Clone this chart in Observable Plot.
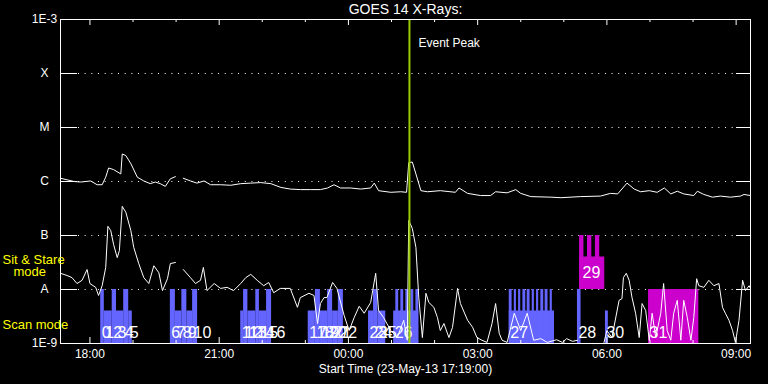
<!DOCTYPE html>
<html><head><meta charset="utf-8">
<script src="https://cdn.jsdelivr.net/npm/d3@7"></script>
<script src="https://cdn.jsdelivr.net/npm/@observablehq/plot@0.6"></script>
<style>
html,body{margin:0;padding:0;background:#000;}
#chart svg{display:block;}
</style></head><body><div id="chart"></div>
<script>
// ---------------- data ----------------
const startTime = "2013-05-23T17:19:00Z";
const endTime = "2013-05-24T09:20:00Z";
const peakTime = "2013-05-24T01:25:00Z";
const titleText = "GOES 14 X-Rays:";
const xAxisTitle = "Start Time (23-May-13 17:19:00)";
const peakLabel = "Event Peak";

const yLevels = [1e-9, 1e-8, 1e-7, 1e-6, 1e-5, 1e-4, 1e-3];
const yLevelLabels = ["1E-9", "A", "B", "C", "M", "X", "1E-3"];

const xMajorTicks = ["2013-05-23T18:00Z","2013-05-23T21:00Z","2013-05-24T00:00Z","2013-05-24T03:00Z","2013-05-24T06:00Z","2013-05-24T09:00Z"];
const xMajorLabels = ["18:00","21:00","00:00","03:00","06:00","09:00"];
const xMinorTicks = ["2013-05-23T19:00Z","2013-05-23T20:00Z","2013-05-23T22:00Z","2013-05-23T23:00Z","2013-05-24T01:00Z","2013-05-24T02:00Z","2013-05-24T04:00Z","2013-05-24T05:00Z","2013-05-24T07:00Z","2013-05-24T08:00Z"];

// long channel (1-8 A): minutes after start, log10 flux
const longMin = [0,19,28,42,51,58,63,67,74,84,86,91,98,107,116,125,132,139,146,153,160,165,171,181,190,200,209,223,237,251,265,279,293,307,320,334,348,362,372,381,390,404,418,432,437,443,460,474,482,485,490,495,502,511,529,550,555,567,585,599,606,622,634,641,655,683,697,724,752,766,776,789,799,808,820,831,841,850,859,868,882,887,896,908,919,933,947,952,961];
const longLog = [-5.94,-6.00,-6.01,-5.99,-6.06,-6.06,-5.92,-5.75,-5.78,-5.86,-5.49,-5.52,-5.67,-5.92,-5.99,-6.04,-6.01,-6.04,-6.09,-5.95,-5.91,null,-5.94,-5.99,-6.03,-5.99,-6.06,-6.06,-6.07,-6.04,-6.03,-6.02,-6.04,-6.11,-6.14,-6.15,-6.15,-6.15,-6.12,-6.06,-6.12,-6.12,-6.14,-6.12,-6.03,-6.17,-6.20,-6.19,-6.20,-5.65,-5.64,-5.86,-6.17,-6.19,-6.17,-6.20,-6.12,-6.22,-6.26,-6.26,-6.19,-6.21,-6.15,-6.22,-6.28,-6.29,-6.30,-6.28,-6.27,-6.22,-6.23,-6.03,-6.14,-6.19,-6.17,-6.20,-6.12,-6.23,-6.18,-6.23,-6.26,-6.18,-6.24,-6.29,-6.27,-6.29,-6.27,-6.24,-6.26];

// short channel (0.5-4 A): minutes after start, log10 flux
const shortMin = [0,9,16,23,30,37,41,49,53,58,63,66,70,74,79,82,86,91,98,102,109,116,123,130,137,142,149,153,160,165,171,181,188,195,199,204,214,223,232,241,251,258,265,274,283,290,297,306,320,330,334,346,353,358,362,367,371,379,385,395,402,409,416,423,432,439,443,450,460,469,478,483,485,490,495,499,504,509,513,520,525,529,534,541,546,553,557,567,574,580,587,594,601,606,611,615,622,632,641,650,659,669,678,691,699,705,713,720,725,757,761,768,778,782,784,788,792,796,801,806,810,815,820,824,829,836,840,845,850,854,859,864,868,873,878,882,886,889,896,903,910,917,922,926,931,936,940,945,950,954,959,961];
const shortLog = [-7.70,-7.74,-7.78,-7.89,-7.83,-7.63,-7.89,-7.96,-8.11,-7.93,-7.59,-6.83,-6.91,-7.17,-7.41,-7.28,-6.46,-6.57,-6.91,-7.22,-7.52,-7.78,-7.89,-7.56,-7.69,-8.02,-7.80,-7.52,-7.50,null,-7.63,-7.78,-7.89,-7.83,-7.59,-8.02,-7.89,-7.98,-7.96,-8.02,-7.89,-7.78,-7.72,-7.83,-7.93,-7.87,-8.06,-7.98,-7.98,-8.33,-8.15,-8.07,-8.11,-8.63,-8.26,-8.15,-8.15,-7.87,-7.98,-8.48,-8.76,-8.52,-8.31,-8.44,-8.24,-7.70,-8.39,-8.52,-8.76,-8.89,-8.57,-8.94,-6.72,-6.87,-7.22,-8.15,-8.89,-8.07,-8.24,-8.33,-8.52,-8.76,-8.63,-8.89,-8.70,-7.98,-8.26,-8.57,-8.70,-8.89,-8.94,-8.98,-8.63,-8.26,-8.81,-8.94,-8.98,-8.44,-8.76,-8.44,-8.94,-8.91,-8.98,-8.93,-8.98,-8.91,-8.96,-8.94,null,-8.98,-8.76,-8.89,-8.20,-8.17,-7.78,-7.70,-7.83,-8.15,-8.44,-8.89,-8.26,-8.39,-8.94,-8.44,-8.89,-8.44,-7.89,-8.76,-8.94,-8.44,-8.20,-8.94,-8.20,-8.52,-8.94,-8.52,-7.80,-7.93,-7.96,-7.83,-7.93,-7.89,-8.33,-8.44,-8.57,-8.76,-8.98,-8.57,-7.83,-8.02,-7.93,-7.98];

// observations (0..31): minutes after start, flux extent, mode
const obsId = [0,1,2,3,4,5,6,7,8,9,10,11,12,13,14,15,16,17,18,19,20,21,22,23,24,25,26,27,28,29,30,31];
const obsStart = [56,61,72,78,88,95,153,160,169,176,184,251,255,261,272,277,287,345,355,362,372,379,387,429,436,442,464,625,720,723,759,819];
const obsEnd   = [61,72,78,88,95,100,160,169,176,184,191,255,261,272,277,287,294,355,362,372,379,387,394,436,442,453,499,688,725,758,763,889];
const obsLow   = [1e-9,1e-9,1e-9,1e-9,1e-9,1e-9,1e-9,1e-9,1e-9,1e-9,1e-9,1e-9,1e-9,1e-9,1e-9,1e-9,1e-9,1e-9,1e-9,1e-9,1e-9,1e-9,1e-9,1e-9,1e-9,1e-9,1e-9,1e-9,1e-9,1e-8,1e-9,1e-9];
const obsHigh  = [1e-8,4e-9,1e-8,4e-9,1e-8,4e-9,1e-8,4e-9,1e-8,4e-9,1e-8,4e-9,1e-8,4e-9,1e-8,4e-9,1e-8,4e-9,1e-8,4e-9,1e-8,4e-9,1e-8,4e-9,1e-8,4e-9,4e-9,4e-9,1e-8,4e-8,4e-9,1e-8];
const obsMode  = ["scan","scan","scan","scan","scan","scan","scan","scan","scan","scan","scan","scan","scan","scan","scan","scan","scan","scan","scan","scan","scan","scan","scan","scan","scan","scan","scan","scan","scan","sit","scan","sit"];

// sub-exposure teeth
const toothObs   = [26,26,26,26,26,27,27,27,27,27,27,27,27,27,27,29,29,29];
const toothStart = [467,474,481,488,495,625,632,638,644,650,657,663,669,675,682,723,734,745];
const toothEnd   = [471,478,485,492,499,629,635,641,648,654,660,666,673,679,685,729,740,751];
const toothHigh  = [1e-8,1e-8,1e-8,1e-8,1e-8,1e-8,1e-8,1e-8,1e-8,1e-8,1e-8,1e-8,1e-8,1e-8,1e-8,1e-7,1e-7,1e-7];

const modeColor = {scan: "#6464ff", sit: "#cc00cc"};

// ---------------- build ----------------
const t0 = new Date(startTime);
const at = m => new Date(t0.getTime() + m * 60000);
const toFlux = v => (v == null ? NaN : Math.pow(10, v));
const longData = longMin.map((m, i) => ({t: at(m), f: toFlux(longLog[i])}));
const shortData = shortMin.map((m, i) => ({t: at(m), f: toFlux(shortLog[i])}));
const bars = obsId.map((id, i) => ({id, x1: at(obsStart[i]), x2: at(obsEnd[i]), y1: obsLow[i], y2: obsHigh[i], mode: obsMode[i]}));
const teeth = toothObs.map((id, i) => ({x1: at(toothStart[i]), x2: at(toothEnd[i]), y1: obsLow[id], y2: toothHigh[i], mode: obsMode[id]}));
const gridLevels = yLevels.slice(1, -1);
const majors = xMajorTicks.map(d => new Date(d));
const minors = xMinorTicks.map(d => new Date(d));
const peak = new Date(peakTime);

const W = 768, H = 384, ML = 60, MR = 18, MT = 19, MB = 41;
const FW = W - ML - MR, FH = H - MT - MB;

const chart = Plot.plot({
  width: W, height: H,
  marginLeft: ML, marginRight: MR, marginTop: MT, marginBottom: MB,
  style: {background: "#000", color: "#fff", fontFamily: "'Liberation Sans', Arial, sans-serif", fontSize: "12px", overflow: "visible"},
  x: {type: "utc", domain: [t0, new Date(endTime)], axis: null},
  y: {type: "log", domain: [1e-9, 1e-3], axis: null},
  marks: [
    Plot.ruleY(gridLevels, {y: d => d, stroke: "#fff", strokeDasharray: "1,5.67", insetLeft: 18, insetRight: 14}),
    Plot.ruleY(gridLevels, {y: d => d, stroke: "#fff", insetRight: FW - 17}),
    Plot.ruleY(gridLevels, {y: d => d, stroke: "#fff", insetLeft: FW - 14}),
    Plot.rect(bars, {x1: "x1", x2: "x2", y1: "y1", y2: "y2", fill: d => modeColor[d.mode]}),
    Plot.rect(teeth, {x1: "x1", x2: "x2", y1: "y1", y2: "y2", fill: d => modeColor[d.mode]}),
    Plot.line(longData, {x: "t", y: "f", stroke: "#fff", strokeWidth: 1}),
    Plot.line(shortData, {x: "t", y: "f", stroke: "#fff", strokeWidth: 1}),
    Plot.text(bars.filter(d => d.y1 === 1e-9), {x: "x1", y: "y1", text: d => String(d.id), textAnchor: "start", lineAnchor: "middle", dx: 1, dy: -10.5, fill: "#fff", fontSize: 16}),
    Plot.text(bars.filter(d => d.y1 !== 1e-9), {x: "x1", y: "y1", text: d => String(d.id), textAnchor: "start", lineAnchor: "middle", dx: 3, dy: -17, fill: "#fff", fontSize: 16}),
    Plot.ruleX([peak], {x: d => d, stroke: "#99cc00", strokeWidth: 2}),
    Plot.text([peakLabel], {x: () => peak, text: d => d, frameAnchor: "top", dx: 9, dy: 24, textAnchor: "start", lineAnchor: "middle", fill: "#fff"}),
    Plot.ruleX(majors, {x: d => d, stroke: "#fff", insetTop: FH - 6}),
    Plot.ruleX(majors, {x: d => d, stroke: "#fff", insetBottom: FH - 6}),
    Plot.ruleX(minors, {x: d => d, stroke: "#fff", insetTop: FH - 3}),
    Plot.ruleX(minors, {x: d => d, stroke: "#fff", insetBottom: FH - 3}),
    Plot.frame({stroke: "#fff"}),
    Plot.text(yLevels, {y: d => d, text: (d, i) => yLevelLabels[i], frameAnchor: "left", dx: -16, textAnchor: "middle", lineAnchor: "middle", fill: "#fff"}),
    Plot.text(majors, {x: d => d, text: (d, i) => xMajorLabels[i], frameAnchor: "bottom", dy: 11, lineAnchor: "middle", fill: "#fff"}),
    Plot.text([xAxisTitle], {text: d => d, frameAnchor: "bottom", dy: 26, lineAnchor: "middle", fill: "#fff"}),
    Plot.text([titleText], {text: d => d, frameAnchor: "top", dy: -10, lineAnchor: "middle", fill: "#fff", fontSize: 14}),
    Plot.text(["Sit & Stare"], {text: d => d, frameAnchor: "top-left", dx: -58, dy: 240, textAnchor: "start", lineAnchor: "middle", fill: "#ffff00", fontSize: 13}),
    Plot.text(["mode"], {text: d => d, frameAnchor: "top-left", dx: -47, dy: 252, textAnchor: "start", lineAnchor: "middle", fill: "#ffff00", fontSize: 13}),
    Plot.text(["Scan mode"], {text: d => d, frameAnchor: "top-left", dx: -58, dy: 305, textAnchor: "start", lineAnchor: "middle", fill: "#ffff00", fontSize: 13})
  ]
});
document.getElementById("chart").appendChild(chart);
</script>
</body></html>
